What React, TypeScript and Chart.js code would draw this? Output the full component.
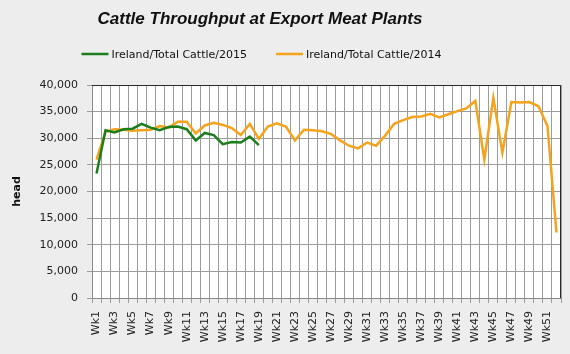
import { useEffect, useRef } from 'react';
import { Chart, registerables } from 'chart.js';

Chart.register(...registerables);

const TITLE = 'Cattle Throughput at Export Meat Plants';
const Y_TITLE = 'head';

const weeks = [
  'Wk1', 'Wk2', 'Wk3', 'Wk4', 'Wk5', 'Wk6', 'Wk7', 'Wk8', 'Wk9', 'Wk10',
  'Wk11', 'Wk12', 'Wk13', 'Wk14', 'Wk15', 'Wk16', 'Wk17', 'Wk18', 'Wk19', 'Wk20',
  'Wk21', 'Wk22', 'Wk23', 'Wk24', 'Wk25', 'Wk26', 'Wk27', 'Wk28', 'Wk29', 'Wk30',
  'Wk31', 'Wk32', 'Wk33', 'Wk34', 'Wk35', 'Wk36', 'Wk37', 'Wk38', 'Wk39', 'Wk40',
  'Wk41', 'Wk42', 'Wk43', 'Wk44', 'Wk45', 'Wk46', 'Wk47', 'Wk48', 'Wk49', 'Wk50',
  'Wk51', 'Wk52',
];

const cattle2015 = [
  23400, 31500, 31100, 31700, 31800, 32700, 32000, 31500, 32100, 32200,
  31700, 29600, 31000, 30600, 28900, 29300, 29200, 30300, 28700,
];

const cattle2014 = [
  26000, 31200, 31700, 31600, 31400, 31500, 31600, 32300, 32000, 33100,
  33100, 30900, 32400, 32900, 32500, 31900, 30600, 32700, 29900, 32200,
  32800, 32200, 29600, 31600, 31500, 31300, 30800, 29600, 28600, 28100,
  29200, 28600, 30500, 32700, 33400, 34000, 34100, 34600, 33900, 34500,
  35100, 35600, 37000, 26000, 37600, 27300, 36800, 36700, 36800, 36000,
  32300, 12300,
];

const seriesNames = ['Ireland/Total Cattle/2015', 'Ireland/Total Cattle/2014'];
const seriesColors = ['#1b7d1b', '#f5a31a'];

const FONT = '"DejaVu Sans", Verdana, sans-serif';

const decorPlugin = {
  id: 'decor',
  beforeDraw(chart: any) {
    const { ctx, chartArea: a, width, height } = chart;
    ctx.save();
    ctx.fillStyle = '#ededed';
    ctx.fillRect(0, 0, width, height);
    ctx.fillStyle = '#ffffff';
    ctx.fillRect(a.left, a.top, a.right - a.left, a.bottom - a.top);
    ctx.restore();
  },
  afterDraw(chart: any) {
    const { ctx, chartArea: a } = chart;
    ctx.save();
    ctx.strokeStyle = '#2a2a2a';
    ctx.lineWidth = 1;
    ctx.beginPath();
    ctx.moveTo(a.left, a.top + 0.5);
    ctx.lineTo(a.right - 0.5, a.top + 0.5);
    ctx.lineTo(a.right - 0.5, a.bottom);
    ctx.stroke();

    ctx.fillStyle = '#111';
    ctx.font = 'italic bold 17px "Liberation Sans Narrow", "Liberation Sans", sans-serif';
    ctx.textAlign = 'center';
    ctx.textBaseline = 'middle';
    ctx.fillText(TITLE, 260, 19);

    ctx.font = '11px ' + FONT;
    const lineLen = 27;
    const gap = 3;
    const itemGap = 29;
    const ds = chart.data.datasets;
    const widths = ds.map((d: any) => lineLen + gap + ctx.measureText(d.label).width);
    const total = widths.reduce((s: number, w: number) => s + w, 0) + itemGap * (ds.length - 1);
    let x = 261.5 - total / 2;
    const y = 54;
    ctx.textAlign = 'left';
    ds.forEach((d: any, i: number) => {
      ctx.strokeStyle = d.borderColor;
      ctx.lineWidth = 2.5;
      ctx.beginPath();
      ctx.moveTo(x, y);
      ctx.lineTo(x + lineLen, y);
      ctx.stroke();
      ctx.fillStyle = '#111';
      ctx.fillText(d.label, x + lineLen + gap, y + 1);
      x += widths[i] + itemGap;
    });
    ctx.restore();
  },
};

export default function App() {
  const ref = useRef<HTMLCanvasElement | null>(null);

  useEffect(() => {
    document.body.style.margin = '0';
    const canvas = ref.current;
    if (!canvas) return;
    const chart = new Chart(canvas, {
      type: 'line',
      data: {
        labels: weeks,
        datasets: [
          {
            label: seriesNames[0],
            data: cattle2015,
            borderColor: seriesColors[0],
            backgroundColor: seriesColors[0],
            borderWidth: 2.5,
            pointRadius: 0,
            tension: 0,
          },
          {
            label: seriesNames[1],
            data: cattle2014,
            borderColor: seriesColors[1],
            backgroundColor: seriesColors[1],
            borderWidth: 2.5,
            pointRadius: 0,
            tension: 0,
          },
        ],
      },
      options: {
        responsive: false,
        animation: false,
        devicePixelRatio: 1,
        layout: { padding: { top: 85, right: 0, left: 0, bottom: 0 } },
        plugins: {
          legend: { display: false },
          title: { display: false },
          tooltip: { enabled: false },
        },
        scales: {
          x: {
            type: 'category',
            offset: true,
            grid: {
              offset: true,
              color: '#9c9c9c',
              lineWidth: 1,
              tickLength: 5,
            },
            border: { color: '#8a8a8a' },
            ticks: {
              autoSkip: false,
              maxRotation: 90,
              minRotation: 90,
              padding: 8,
              color: '#222',
              font: { family: FONT, size: 11 },
              callback: function (this: any, _v: any, idx: number) {
                return idx % 2 === 0 ? weeks[idx] : '';
              },
            },
            afterFit(scale: any) {
              scale.height = 56;
              scale.paddingRight = 9;
              scale.paddingLeft = 0;
            },
          },
          y: {
            min: 0,
            max: 40000,
            grid: { color: '#9c9c9c', lineWidth: 1, tickLength: 5 },
            border: { color: '#8a8a8a' },
            ticks: {
              stepSize: 5000,
              padding: 9,
              color: '#222',
              font: { family: FONT, size: 11 },
              callback: (v: any) => Number(v).toLocaleString('en-US'),
            },
            title: {
              display: true,
              text: Y_TITLE,
              color: '#111',
              font: { family: FONT, size: 11, weight: 'bold' },
              padding: { top: 11, bottom: 0 },
            },
            afterFit(scale: any) {
              scale.width = 92;
            },
          },
        },
      },
      plugins: [decorPlugin],
    } as any);
    return () => chart.destroy();
  }, []);

  return (
    <div style={{ width: 570, height: 354 }}>
      <canvas ref={ref} width={570} height={354} />
    </div>
  );
}
